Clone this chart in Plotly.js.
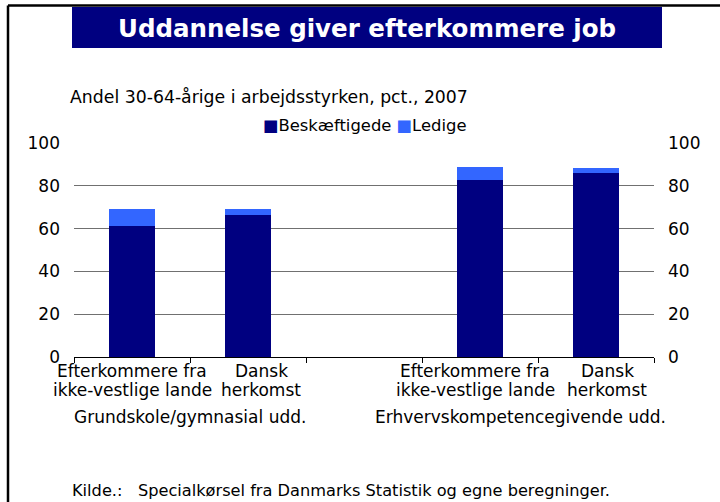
<!DOCTYPE html>
<html>
<head>
<meta charset="utf-8">
<script src="https://cdn.plot.ly/plotly-3.0.1.min.js"></script>
<style>html,body{margin:0;padding:0;background:#fff;}#chart{width:720px;height:502px;}</style>
</head>
<body>
<div id="chart"></div>
<script>
// Data
const categories = ["g1_efterk", "g1_dansk", "gap", "g2_efterk", "g2_dansk"];
const barCategories = ["g1_efterk", "g1_dansk", "g2_efterk", "g2_dansk"];
const labelLine1 = ["Efterkommere fra", "Dansk", "Efterkommere fra", "Dansk"];
const labelLine2 = ["ikke-vestlige lande", "herkomst", "ikke-vestlige lande", "herkomst"];
const beskaeftigede = [61.2, 66.4, 82.7, 86.0];
const ledige = [8.0, 2.8, 6.1, 2.3];
const groupLabels = ["Grundskole/gymnasial udd.", "Erhvervskompetencegivende udd."];
const groupCenters = [0.5, 3.345];
const seriesNames = ["Beskæftigede", "Ledige"];
const seriesColors = ["#000080", "#3366FF"];
const titleText = "Uddannelse giver efterkommere job";
const subtitleText = "Andel 30-64-årige i arbejdsstyrken, pct., 2007";
const sourceText = "Kilde.:\u00a0\u00a0\u00a0Specialkørsel fra Danmarks Statistik og egne beregninger.";

const FONT = "DejaVu Sans, Verdana, sans-serif";
const FS = 17;
const labelShift = [0, 13, -5, 11];

const traces = [
  {type: "bar", name: seriesNames[0], x: barCategories, y: beskaeftigede,
   marker: {color: seriesColors[0]}, width: 0.405, hoverinfo: "skip", showlegend: false},
  {type: "bar", name: seriesNames[1], x: barCategories, y: ledige,
   marker: {color: seriesColors[1]}, width: 0.405, hoverinfo: "skip", showlegend: false},
  {type: "scatter", x: [], y: [], yaxis: "y2", showlegend: false, hoverinfo: "skip"}
];

// pixel->paper helpers (plot area: x 74..654, y 143..357)
const L = 74, R = 654, T = 143, B = 357;
const px = v => (v - L) / (R - L);
const py = v => (B - v) / (B - T);

const legendText = seriesNames.map((n, i) =>
  '<span style="color:' + seriesColors[i] + '">\u25A0</span>' + n).join(' ');

const annotations = [
  {text: "<b>" + titleText + "</b>", xref: "paper", yref: "paper", x: px(367), y: py(28),
   xanchor: "center", yanchor: "middle", showarrow: false, borderpad: 0,
   font: {family: FONT, size: 24.5, color: "#ffffff"}},
  {text: subtitleText, xref: "paper", yref: "paper", x: px(69), y: py(97),
   xanchor: "left", yanchor: "middle", showarrow: false, borderpad: 0,
   font: {family: FONT, size: 17.3, color: "#000000"}},
  {text: legendText, xref: "paper", yref: "paper", x: px(365), y: py(126),
   xanchor: "center", yanchor: "middle", showarrow: false, borderpad: 0,
   font: {family: FONT, size: 16.4, color: "#000000"}},
  {text: sourceText, xref: "paper", yref: "paper", x: px(71), y: py(490),
   xanchor: "left", yanchor: "middle", showarrow: false, borderpad: 0,
   font: {family: FONT, size: 16.2, color: "#000000"}}
];
groupLabels.forEach((g, i) => annotations.push({
  text: g, xref: "x", yref: "paper", x: groupCenters[i], y: py(417),
  xanchor: "center", yanchor: "middle", showarrow: false, borderpad: 0,
  font: {family: FONT, size: FS, color: "#000000"}
}));
barCategories.forEach((c, i) => {
  [[labelLine1[i], 371], [labelLine2[i], 390]].forEach(([t, yy]) => annotations.push({
    text: t, xref: "x", yref: "paper", x: c, y: py(yy), xshift: labelShift[i],
    xanchor: "center", yanchor: "middle", showarrow: false, borderpad: 0,
    font: {family: FONT, size: FS, color: "#000000"}
  }));
});

const shapes = [
  {type: "rect", xref: "paper", yref: "paper", x0: px(72), x1: px(662), y0: py(48), y1: py(7),
   fillcolor: "#000080", line: {width: 0}, layer: "below"},
  {type: "line", xref: "paper", yref: "paper", x0: px(8), x1: px(722), y0: py(5.5), y1: py(5.5),
   line: {color: "#000000", width: 2.5}},
  {type: "line", xref: "paper", yref: "paper", x0: px(8), x1: px(8), y0: py(5.5), y1: py(504),
   line: {color: "#000000", width: 2.5}}
];

const layout = {
  width: 720, height: 502,
  margin: {l: L, r: 720 - R, t: T, b: 502 - B, pad: 0},
  paper_bgcolor: "#ffffff", plot_bgcolor: "#ffffff",
  barmode: "stack",
  showlegend: false,
  font: {family: FONT, size: FS, color: "#000000"},
  xaxis: {type: "category", categoryorder: "array", categoryarray: categories,
    showticklabels: false,
    range: [-0.5, 4.5], tickson: "boundaries", ticks: "outside", ticklen: 5, tickcolor: "#000000",
    showline: true, linecolor: "#000000", linewidth: 1, showgrid: false, zeroline: false,
    fixedrange: true},
  yaxis: {range: [0, 100], tickvals: [0, 20, 40, 60, 80, 100], showgrid: true,
    gridcolor: "#707070", gridwidth: 1, zeroline: false, showline: false, ticks: "",
    ticklabelstandoff: 13,
    tickfont: {family: FONT, size: FS, color: "#000000"}, fixedrange: true},
  yaxis2: {range: [0, 100], tickvals: [0, 20, 40, 60, 80, 100], overlaying: "y", side: "right",
    showgrid: false, zeroline: false, showline: false, ticks: "",
    ticklabelstandoff: 13,
    tickfont: {family: FONT, size: FS, color: "#000000"}, fixedrange: true},
  annotations: annotations,
  shapes: shapes
};

Plotly.newPlot("chart", traces, layout, {displayModeBar: false, staticPlot: true});
</script>
</body>
</html>
